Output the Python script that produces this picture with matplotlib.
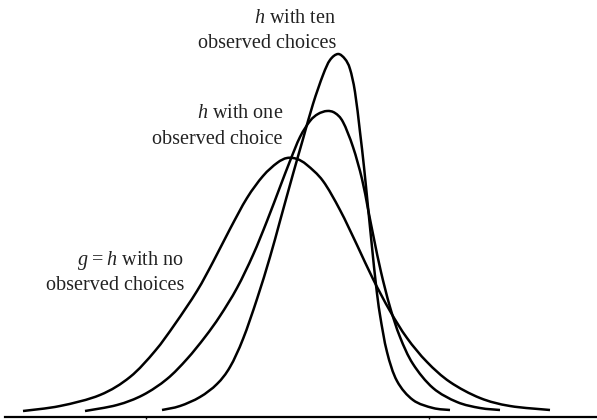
import matplotlib
matplotlib.use("Agg")
import matplotlib.pyplot as plt
from matplotlib.path import Path
from matplotlib.patches import PathPatch

plt.rcParams['font.family'] = ['Liberation Serif', 'DejaVu Serif']
plt.rcParams['mathtext.fontset'] = 'custom'
plt.rcParams['mathtext.rm'] = 'Liberation Serif'
plt.rcParams['mathtext.it'] = 'Liberation Serif:italic'

# Curve read-offs: position along the axis, height above the baseline
no_obs_x = [23, 60, 100, 130, 155, 175, 197, 213, 230, 247, 263, 277, 287, 297, 307,
            323, 340, 357, 373, 390, 407, 427, 450, 480, 510, 550]
no_obs_y = [6, 11, 22, 40, 66, 93, 126, 155, 188, 219, 241, 254, 259, 258, 252,
            236, 207, 172, 138, 106, 79, 55, 35, 19, 11, 7]

one_obs_x = [85, 117, 143, 167, 187, 205, 220, 237, 253, 267, 280, 290, 300, 310, 318,
             327, 335, 343, 353, 362, 368, 374, 381, 390, 400, 413, 433, 457, 480, 500]
one_obs_y = [6, 12, 22, 38, 58, 80, 101, 129, 162, 196, 230, 256, 280, 296, 303,
             306, 304, 295, 270, 238, 208, 178, 145, 110, 80, 53, 29, 15, 9, 7]

ten_obs_x = [162, 180, 200, 217, 230, 243, 257, 270, 280, 293, 303, 313, 323, 330, 338,
             345, 350, 355, 360, 364, 368, 372, 376, 380, 387, 397, 413, 433, 450]
ten_obs_y = [7, 11, 20, 33, 50, 78, 118, 160, 196, 243, 278, 313, 342, 357, 363,
             358, 348, 325, 285, 250, 210, 170, 132, 102, 65, 36, 17, 9, 7]

tick_positions = [146, 429]

labels_no = ["$g$\u2009=\u2009$h$ with no", "observed choices"]
labels_one = ["$h$ with one", "observed choice"]
labels_ten = ["$h$ with ten", "observed choices"]

fig = plt.figure(figsize=(5.97, 4.20), dpi=100)
ax = fig.add_axes([5 / 597, 3 / 420, 592 / 597, 417 / 420])
ax.set_xlim(5, 597)
ax.set_ylim(0, 417)


def smooth_path(xs, ys):
    # Catmull-Rom curve through the read points, expressed as cubic Bezier segments
    pts = list(zip(xs, ys))
    n = len(pts)
    verts = [pts[0]]
    codes = [Path.MOVETO]
    for i in range(n - 1):
        p0 = pts[i - 1] if i > 0 else pts[i]
        p1 = pts[i]
        p2 = pts[i + 1]
        p3 = pts[i + 2] if i + 2 < n else pts[i + 1]
        c1 = (p1[0] + (p2[0] - p0[0]) / 6.0, p1[1] + (p2[1] - p0[1]) / 6.0)
        c2 = (p2[0] - (p3[0] - p1[0]) / 6.0, p2[1] - (p3[1] - p1[1]) / 6.0)
        verts += [c1, c2, p2]
        codes += [Path.CURVE4] * 3
    return Path(verts, codes)


for xs, ys in [(no_obs_x, no_obs_y), (one_obs_x, one_obs_y), (ten_obs_x, ten_obs_y)]:
    ax.add_patch(PathPatch(smooth_path(xs, ys), facecolor='none', edgecolor='black',
                           lw=1.8, capstyle='butt', joinstyle='round'))

for s in ['top', 'right', 'left']:
    ax.spines[s].set_visible(False)
ax.spines['bottom'].set_linewidth(1.6)
ax.set_yticks([])
ax.set_xticks(tick_positions)
ax.set_xticklabels([])
ax.tick_params(axis='x', direction='out', length=1.5, width=1.0)

fs = 14.5


def put(label_lines, xr, y1, y2):
    ax.text(xr, y1, label_lines[0], ha='right', va='baseline', fontsize=fs, color='#222222')
    ax.text(xr, y2, label_lines[1], ha='right', va='baseline', fontsize=fs, color='#222222')


put(labels_no, 184, 417 - 265, 417 - 290)
put(labels_one, 283, 417 - 118, 417 - 144)
put(labels_ten, 336, 417 - 22.5, 417 - 48)

fig.savefig("out.png", dpi=100)
